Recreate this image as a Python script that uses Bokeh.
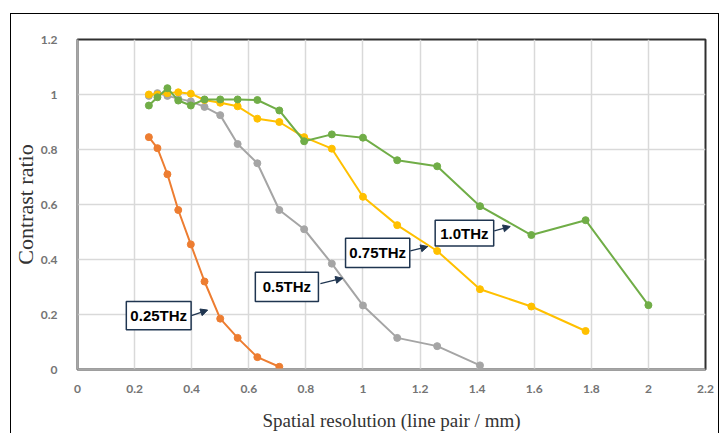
from bokeh.plotting import figure
from bokeh.models import Range1d, FixedTicker, NumeralTickFormatter, Arrow, NormalHead, InlineStyleSheet
from bokeh.core.properties import value
from bokeh.embed import file_html
from bokeh.resources import INLINE

# ---- data ----
freq_x = [0.25, 0.28, 0.315, 0.353, 0.397, 0.445, 0.5, 0.561, 0.63, 0.707,
          0.794, 0.891, 1.0, 1.12, 1.26, 1.41, 1.59, 1.78, 2.0]

x_025 = freq_x[:10]
y_025 = [0.845, 0.805, 0.71, 0.58, 0.455, 0.32, 0.185, 0.115, 0.045, 0.01]

x_050 = freq_x[:16]
y_050 = [0.995, 1.005, 0.995, 0.985, 0.975, 0.955, 0.925, 0.82, 0.75, 0.58,
         0.51, 0.385, 0.233, 0.115, 0.085, 0.015]

x_075 = freq_x[:18]
y_075 = [1.0, 1.0, 1.005, 1.008, 1.003, 0.98, 0.97, 0.957, 0.912, 0.9,
         0.845, 0.803, 0.628, 0.525, 0.431, 0.292, 0.229, 0.14]

x_100 = freq_x[:19]
y_100 = [0.96, 0.99, 1.023, 0.978, 0.96, 0.982, 0.982, 0.982, 0.98, 0.942,
         0.83, 0.855, 0.843, 0.761, 0.739, 0.594, 0.489, 0.543, 0.234]

series_names = ["0.25THz", "0.5THz", "0.75THz", "1.0THz"]
x_ticks = [0, 0.2, 0.4, 0.6, 0.8, 1.0, 1.2, 1.4, 1.6, 1.8, 2.0, 2.2]
y_ticks = [0, 0.2, 0.4, 0.6, 0.8, 1.0, 1.2]

# ---- styles / positions ----
colors = ["#ED7D31", "#A5A5A5", "#FFC000", "#70AD47"]
# label boxes: (left, right, bottom, top) in data units, arrow (xs, ys, xe, ye)
boxes = [(0.171, 0.398, 0.145, 0.247), (0.623, 0.844, 0.247, 0.354),
         (0.939, 1.164, 0.371, 0.477), (1.253, 1.458, 0.449, 0.543)]
arrows = [(0.399, 0.196, 0.456, 0.216), (0.851, 0.312, 0.929, 0.332),
          (1.166, 0.431, 1.227, 0.447), (1.460, 0.504, 1.516, 0.520)]
navy = "#1F3550"

p = figure(width=719, height=433, output_backend="svg", toolbar_location=None,
           x_range=Range1d(0, 2.2), y_range=Range1d(0, 1.2),
           min_border_left=77, min_border_right=14, min_border_top=39, min_border_bottom=63)
p.background_fill_color = "white"
p.border_fill_color = "white"
p.outline_line_color = "#303030"
p.outline_line_width = 2

for ax in (p.xaxis, p.yaxis):
    ax.major_tick_line_color = None
    ax.minor_tick_line_color = None
    ax.axis_line_color = "#A6A6A6"
    ax.axis_line_width = 2
    ax.major_label_text_font = "Lato"
    ax.major_label_text_font_size = "12px"
    ax.major_label_text_font_style = "bold"
    ax.major_label_text_color = "#747474"
    ax.formatter = NumeralTickFormatter(format="0.[0]")
    ax.axis_label_text_font = "Liberation Serif"
    ax.axis_label_text_font_style = "normal"
    ax.axis_label_text_color = "#333333"

p.xaxis.axis_label_text_font_size = "19px"
p.yaxis.axis_label_text_font_size = "22px"
p.xaxis.ticker = FixedTicker(ticks=x_ticks)
p.yaxis.ticker = FixedTicker(ticks=y_ticks)
p.xaxis.axis_label = "Spatial resolution (line pair / mm)"
p.yaxis.axis_label = "Contrast ratio"
p.xaxis.major_label_standoff = 9
p.xaxis.axis_label_standoff = 14
p.yaxis.major_label_standoff = 14
p.yaxis.axis_label_standoff = 0

p.xgrid.ticker = FixedTicker(ticks=x_ticks)
p.ygrid.ticker = FixedTicker(ticks=y_ticks)
p.grid.grid_line_color = "#D9D9D9"
p.grid.grid_line_width = 1.5

for xs, ys, c in zip([x_025, x_050, x_075, x_100], [y_025, y_050, y_075, y_100], colors):
    p.line(xs, ys, line_color=c, line_width=2)
    p.scatter(xs, ys, size=7, fill_color=c, line_color=c)

for (l, r, b, t), name in zip(boxes, series_names):
    p.quad(left=[l], right=[r], bottom=[b], top=[t], fill_color="white",
           line_color=navy, line_width=1.5)
    p.text(x=[(l + r) / 2], y=[(b + t) / 2], text=[name], text_align="center",
           text_baseline="middle", text_font=value("Liberation Sans"),
           text_font_size="15px", text_font_style="bold", text_color="black")

for (xs, ys, xe, ye) in arrows:
    p.add_layout(Arrow(end=NormalHead(size=7, fill_color=navy, line_color=navy),
                       x_start=xs, y_start=ys, x_end=xe, y_end=ye,
                       line_color=navy, line_width=1.3))

# outer chart-area border (overlay, does not affect layout)
p.stylesheets = [InlineStyleSheet(css=(
    ":host::after { content: ''; position: absolute; left: 10px; top: 13px; "
    "right: 0px; bottom: -20px; border: 1.5px solid black; "
    "pointer-events: none; box-sizing: border-box; }"))]

open("out.html", "w").write(file_html(p, INLINE))
